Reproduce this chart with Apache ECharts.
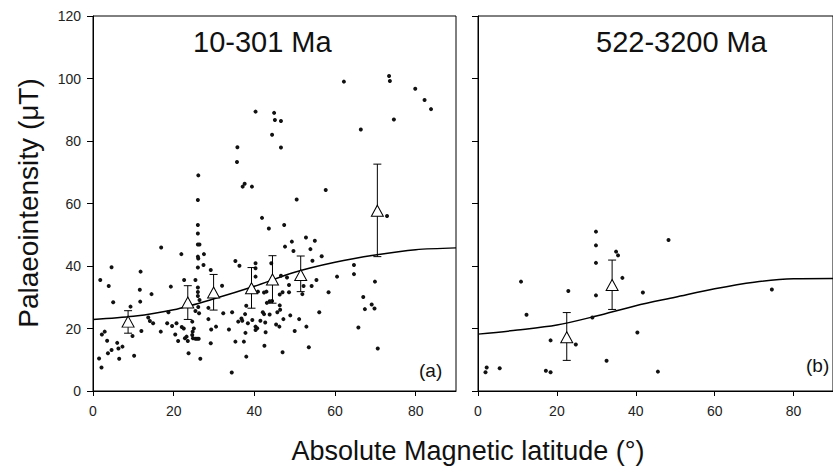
<!DOCTYPE html>
<html>
<head>
<meta charset="utf-8">
<script src="https://cdn.jsdelivr.net/npm/echarts@6/dist/echarts.min.js"></script>
<style>
  html, body { margin: 0; padding: 0; background: #fff; }
  #chart { width: 833px; height: 475px; }
</style>
</head>
<body>
<div id="chart"></div>
<script>
// tick labels
var xTicks = [0, 20, 40, 60, 80];
var yTicks = [0, 20, 40, 60, 80, 100, 120];

// panel (a) 10-301 Ma : individual results [latitude, intensity]
var dotsA = [
    [16.9, 45.9], [21.9, 43.8], [4.6, 39.6], [11.8, 38.2], [1.8, 35.5], [3.9, 33.6], [19.3, 33.4], [11.6, 32.4],
    [14.5, 31.0], [22.6, 35.5], [5.0, 28.4], [11.7, 28.6], [9.3, 27.0], [18.7, 25.2], [13.7, 23.5], [14.1, 22.4],
    [14.9, 21.7], [18.4, 21.7], [19.6, 20.8], [20.7, 21.7], [22.0, 20.5], [22.5, 20.0], [12.0, 19.2], [16.8, 19.0],
    [2.9, 19.0], [2.2, 18.1], [9.8, 17.6], [3.5, 16.1], [20.4, 18.1], [21.1, 16.0], [22.8, 16.9], [6.0, 15.4],
    [7.3, 14.2], [6.3, 13.6], [4.6, 13.1], [3.7, 12.1], [6.5, 10.3], [10.2, 11.3], [1.5, 10.4], [2.1, 7.5],
    [26.0, 61.1], [26.0, 53.1], [26.0, 50.4], [26.0, 46.9], [26.4, 46.9], [26.0, 43.0], [26.1, 42.4], [27.5, 43.8],
    [27.4, 40.3], [26.0, 39.5], [29.2, 38.7], [25.4, 35.5], [26.0, 33.1], [26.0, 31.7], [26.0, 30.4], [26.4, 29.1],
    [26.1, 26.9], [25.4, 25.6], [26.3, 24.9], [32.0, 33.7], [35.3, 41.6], [36.3, 40.1], [40.3, 40.9], [40.3, 39.3],
    [41.9, 55.4], [43.6, 52.0], [44.2, 40.9], [40.3, 36.6], [28.6, 26.6], [32.3, 24.9], [34.5, 25.2], [28.6, 23.0],
    [29.3, 19.7], [30.5, 20.6], [33.7, 19.7], [36.0, 22.2], [36.8, 23.2], [37.0, 22.5], [37.7, 24.6], [38.0, 27.3],
    [38.4, 21.7], [39.5, 22.7], [40.3, 20.6], [40.3, 19.5], [40.7, 20.1], [40.9, 31.8], [41.5, 22.5], [42.1, 25.2],
    [42.4, 24.6], [42.7, 21.9], [42.8, 18.8], [43.1, 28.2], [43.8, 28.7], [44.4, 28.8], [42.4, 31.5], [43.0, 31.8],
    [43.8, 24.5], [45.4, 21.3], [45.7, 25.2], [42.5, 14.5], [37.8, 18.6], [37.4, 15.8], [35.3, 15.8], [29.2, 15.3],
    [23.7, 12.1], [26.6, 10.3], [38.0, 11.0], [34.4, 5.9], [23.5, 16.0], [24.6, 17.9], [25.0, 20.0], [24.7, 19.0],
    [25.4, 16.7], [25.8, 16.7], [26.2, 16.7], [24.6, 22.2], [23.2, 17.4], [24.8, 16.9],
    [50.5, 61.3], [47.4, 53.1], [52.8, 49.1], [55.0, 48.1], [49.3, 47.8], [47.6, 46.2], [53.9, 45.4], [49.7, 44.8],
    [56.7, 43.1], [54.4, 41.7], [64.7, 40.3], [64.7, 37.4], [60.5, 36.6], [46.6, 36.9], [48.1, 36.3], [48.6, 33.9],
    [48.6, 31.6], [47.0, 31.6], [46.3, 30.9], [52.2, 33.6], [54.2, 33.6], [55.4, 35.5], [51.9, 31.0], [58.4, 31.6],
    [56.1, 25.2], [46.3, 27.4], [46.4, 26.0], [47.2, 23.0], [48.9, 24.2], [51.1, 23.0], [46.2, 20.6], [52.9, 20.6],
    [50.0, 19.2], [47.0, 12.4], [53.5, 14.0], [67.0, 30.1], [67.4, 26.2], [65.8, 20.3],
    [72.9, 56.0], [69.9, 35.0], [69.1, 27.7], [69.8, 26.4], [70.6, 13.6],
    [40.3, 89.4], [44.9, 89.0], [45.1, 86.7], [46.6, 86.4], [44.4, 82.0], [46.6, 77.9], [35.8, 78.0], [35.7, 73.3],
    [26.1, 69.0], [37.6, 66.3], [37.1, 65.4], [39.4, 65.4], [62.2, 99.0], [73.4, 100.8], [73.6, 99.2], [79.9, 96.7],
    [82.2, 93.1], [83.8, 90.2], [74.6, 86.9], [66.4, 83.7], [57.7, 64.3]
];
// binned means [latitude, mean, low, high]
var meansA = [
    [8.7, 22.2, 18.5, 25.7], [23.5, 28.3, 22.9, 33.7], [29.9, 31.5, 25.9, 37.3], [39.3, 32.9, 26.5, 39.5],
    [44.5, 35.7, 28.1, 43.3], [51.5, 37.1, 31.8, 43.2], [70.5, 57.7, 43.0, 72.6]
];
var curveA = [[0, 22.9], [10, 23.9], [20, 26.0], [30, 29.5], [40, 33.5], [50, 38.0], [60, 41.2], [70, 43.5], [80, 45.2], [90, 45.8]];

// panel (b) 522-3200 Ma
var dotsB = [
    [29.9, 51.0], [29.9, 46.6], [29.9, 41.0], [35.0, 44.6], [35.5, 43.4], [36.6, 36.2], [29.9, 30.6], [22.9, 32.0],
    [10.9, 35.0], [12.3, 24.4], [29.0, 23.5], [40.4, 18.7], [18.4, 16.2], [24.8, 14.9], [32.6, 9.7], [2.2, 7.5],
    [1.9, 6.0], [5.5, 7.3], [17.2, 6.5], [18.4, 6.0], [48.3, 48.3], [41.8, 31.5], [45.6, 6.2], [74.5, 32.5]
];
var meansB = [[22.5, 17.2, 9.8, 25.1], [34.0, 33.9, 26.1, 41.9]];
var curveB = [[0, 18.2], [10, 19.5], [20, 21.1], [30, 24.0], [40, 27.3], [50, 30.0], [60, 32.7], [70, 34.8], [80, 35.9], [90, 36.0]];

var font = 'Liberation Sans, Arial, sans-serif';

function xAxisFor(i) {
    return {
        type: 'value', gridIndex: i, min: 0, max: 90,
        axisLine: { lineStyle: { color: '#000', width: 1 } },
        axisTick: { show: true, length: 5, lineStyle: { color: '#000' }, customValues: xTicks },
        axisLabel: { color: '#222', fontSize: 14, fontFamily: font, margin: 13, customValues: xTicks },
        splitLine: { show: false }
    };
}
function yAxisFor(i, labels) {
    return {
        type: 'value', gridIndex: i, min: 0, max: 120, interval: 20,
        axisLine: { show: true, lineStyle: { color: '#000', width: 1 } },
        axisTick: { show: true, length: 6, lineStyle: { color: '#000' }, customValues: yTicks },
        axisLabel: { show: labels, color: '#222', fontSize: 14, fontFamily: font, margin: 12, customValues: yTicks },
        splitLine: { show: false }
    };
}

function errorBars(params, api) {
    var x = api.value(0);
    var lo = api.coord([x, api.value(2)]);
    var hi = api.coord([x, api.value(3)]);
    var w = 4;
    var st = { stroke: '#000', lineWidth: 1 };
    return {
        type: 'group',
        children: [
            { type: 'line', shape: { x1: lo[0], y1: lo[1], x2: hi[0], y2: hi[1] }, style: st },
            { type: 'line', shape: { x1: lo[0] - w, y1: lo[1], x2: lo[0] + w, y2: lo[1] }, style: st },
            { type: 'line', shape: { x1: hi[0] - w, y1: hi[1], x2: hi[0] + w, y2: hi[1] }, style: st }
        ]
    };
}

function panelSeries(i, dots, means, curve) {
    return [
        {
            type: 'line', xAxisIndex: i, yAxisIndex: i, data: curve, smooth: 0.3,
            showSymbol: false, lineStyle: { color: '#000', width: 1.5 }, z: 2, silent: true
        },
        {
            type: 'scatter', xAxisIndex: i, yAxisIndex: i, data: dots,
            symbolSize: 4, itemStyle: { color: '#111', opacity: 1 }, z: 3
        },
        {
            type: 'custom', xAxisIndex: i, yAxisIndex: i, data: means,
            encode: { x: 0, y: [2, 3] }, renderItem: errorBars, z: 4
        },
        {
            type: 'scatter', xAxisIndex: i, yAxisIndex: i,
            data: means.map(function (m) { return [m[0], m[1]]; }),
            symbol: 'triangle', symbolSize: [12, 11],
            itemStyle: { color: '#fff', borderColor: '#000', borderWidth: 1, opacity: 1 }, z: 5
        }
    ];
}

var chart = echarts.init(document.getElementById('chart'), null, { renderer: 'svg' });
chart.setOption({
    backgroundColor: '#fff',
    animation: false,
    grid: [
        { left: 93, top: 16, width: 363, height: 375, show: true, borderColor: '#000', borderWidth: 1, backgroundColor: 'transparent' },
        { left: 478, top: 16, width: 363, height: 375, show: true, borderColor: '#000', borderWidth: 1, backgroundColor: 'transparent' }
    ],
    xAxis: [xAxisFor(0), xAxisFor(1)],
    yAxis: [yAxisFor(0, true), yAxisFor(1, false)],
    series: panelSeries(0, dotsA, meansA, curveA).concat(panelSeries(1, dotsB, meansB, curveB)),
    graphic: [
        { type: 'text', left: 193, top: 27, style: { text: '10-301 Ma', fontSize: 29, fontFamily: font, fill: '#111' } },
        { type: 'text', left: 596, top: 27, style: { text: '522-3200 Ma', fontSize: 29, fontFamily: font, fill: '#111' } },
        { type: 'text', left: 419, top: 361, style: { text: '(a)', fontSize: 19, fontFamily: font, fill: '#111' } },
        { type: 'text', left: 806, top: 356, style: { text: '(b)', fontSize: 19, fontFamily: font, fill: '#111' } },
        {
            type: 'text', x: 28, y: 203, rotation: Math.PI / 2,
            style: { text: 'Palaeointensity (\u03bcT)', fontSize: 28, fontFamily: font, fill: '#111', align: 'center', verticalAlign: 'middle' }
        },
        {
            type: 'text', x: 468, y: 451,
            style: { text: 'Absolute Magnetic latitude (\u00b0)', fontSize: 27, fontFamily: font, fill: '#111', align: 'center', verticalAlign: 'middle' }
        }
    ]
});
</script>
</body>
</html>
